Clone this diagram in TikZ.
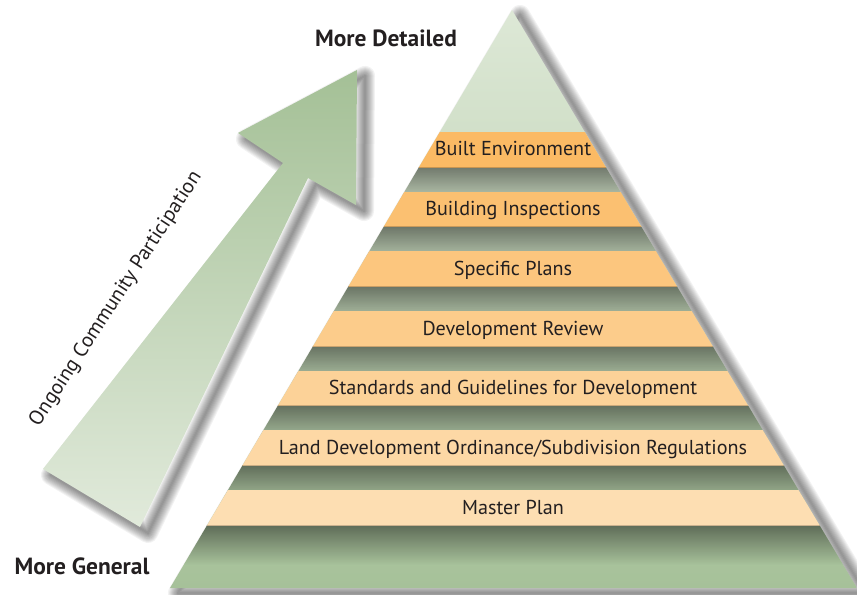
\documentclass[tikz,border=0pt]{standalone}
\usepackage{fontspec}
\setmainfont{PT Sans}
\usetikzlibrary{fadings}
\definecolor{ink}{HTML}{231F20}
\definecolor{pyrtop}{HTML}{DDE8D6}
\definecolor{pyrbot}{HTML}{A6C199}
\definecolor{bandtop}{HTML}{FBBA64}
\definecolor{bandbot}{HTML}{FDDEB2}
\definecolor{arrtop}{HTML}{A4C096}
\definecolor{arrbot}{HTML}{E1EADB}
\begin{document}
\begin{tikzpicture}[x=0.03cm,y=-0.03cm,
  bandtext/.style={font=\fontsize{17.2}{20}\selectfont,text=ink},
  headtext/.style={font=\bfseries\fontsize{20}{24}\selectfont,text=ink},
  softshadow/.style={draw=black,draw opacity=0.05,line join=round}]
\useasboundingbox (0,0) rectangle (857,595);
% 矢印の影
\foreach \k in {1,...,10}
  \draw[softshadow,line width=\k*0.06cm,shift={(8,6)}]
    (357,70) -- (238,133) -- (283,163) -- (43,469) -- (140,527) -- (308,178) -- (356,205) -- cycle;
% 矢印
\shade[top color=arrtop,bottom color=arrbot]
  (357,70) -- (238,133) -- (283,163) -- (43,469) -- (140,527) -- (308,178) -- (356,205) -- cycle;
% ピラミッドの影
\foreach \k in {1,...,10}
  \draw[softshadow,line width=\k*0.06cm,shift={(8,5)}]
    (512,10) -- (170,588) -- (857,588) -- cycle;
% ピラミッド
\shade[top color=pyrtop,bottom color=pyrbot] (512,10) -- (170,588) -- (857,588) -- cycle;
% 帯と帯の下の影
\begin{scope}
\clip (512,10) -- (170,588) -- (857,588) -- cycle;
\foreach \i in {0,...,6} {
  \pgfmathsetmacro\yt{132+59.67*\i}
  \pgfmathsetmacro\pc{100*\i/6}
  \colorlet{bandfill}{bandbot!\pc!bandtop}
  \fill[black,fill opacity=0.45,path fading=south] (0,\yt+35) rectangle (857,\yt+75);
  \fill[bandfill] (0,\yt) rectangle (857,\yt+35);
  \draw[bandfill!80!black,line width=0.4pt] (0,\yt+35) -- (857,\yt+35);
}
\end{scope}
% 帯の文字
\foreach \txt [count=\i from 0] in {Built Environment,Building Inspections,Specific Plans,
    Development Review,Standards and Guidelines for Development,
    Land Development Ordinance/Subdivision Regulations,Master Plan}
  \node[bandtext,anchor=base] (band\i) at (513,{156+59.67*\i}) {\txt};
% 見出し
\node[headtext] (detailed) at (386,38.5) {More Detailed};
\node[headtext] (general) at (82,566.5) {More General};
\node[bandtext,font=\fontsize{17.6}{20}\selectfont,rotate=57] (ongoing) at (116,299) {Ongoing Community Participation};
\end{tikzpicture}
\end{document}
